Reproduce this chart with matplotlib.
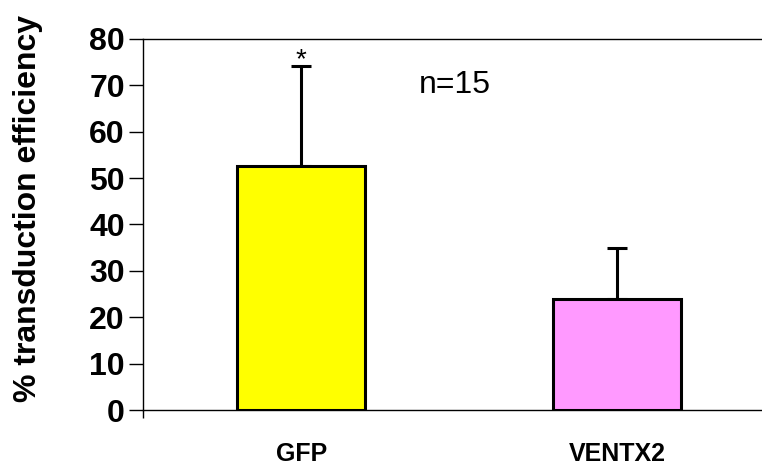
import matplotlib
matplotlib.use("Agg")
import matplotlib.pyplot as plt
import numpy as np

categories = ["GFP", "VENTX2"]
values = [52.6, 23.9]
errors = [21.6, 11.1]
colors = ["#ffff00", "#ff99ff"]
y_ticks = [0, 10, 20, 30, 40, 50, 60, 70, 80]

plt.rcParams['font.family'] = ['Liberation Sans', 'DejaVu Sans']

fig = plt.figure(figsize=(7.62, 4.65), dpi=100)
ax = fig.add_axes([143 / 762, 1 - 410 / 465, 1 - 143 / 762, 371 / 465])

x = np.arange(len(categories))
ax.bar(x, values, width=0.406, color=colors, edgecolor="black", linewidth=2.2, zorder=2)
ax.errorbar(x, values, yerr=[np.zeros(len(errors)), errors], fmt="none",
            ecolor="black", elinewidth=2.2, capsize=7, capthick=2.2, zorder=1)

ax.set_xlim(-0.502, 1.46)
ax.set_ylim(0, 80)
ax.set_yticks(y_ticks)
ax.set_yticklabels([str(t) for t in y_ticks], fontsize=23, fontweight="bold")
ax.set_xticks(x)
ax.set_xticklabels(categories, fontsize=18, fontweight="bold")
ax.tick_params(axis="x", length=0, pad=23)
ax.tick_params(axis="y", direction="out", length=10, width=1, pad=3)
ax.set_xticks([-0.502], minor=True)
ax.tick_params(axis="x", which="minor", direction="out", length=6, width=1)

ax.spines["right"].set_visible(False)
for s in ["left", "top", "bottom"]:
    ax.spines[s].set_linewidth(1.0)

# y label placed in figure coords to match the reference position
fig.text(28 / 762, 1 - 208 / 465, "% transduction efficiency",
         rotation=90, fontsize=23, fontweight="bold", ha="center", va="center")

ax.text(0, values[0] + errors[0] + 1.3, "*", fontsize=20, ha="center", va="center")
ax.text(0.487, 70, "n=15", fontsize=23, ha="center", va="center")

fig.savefig("out.png", dpi=100)
